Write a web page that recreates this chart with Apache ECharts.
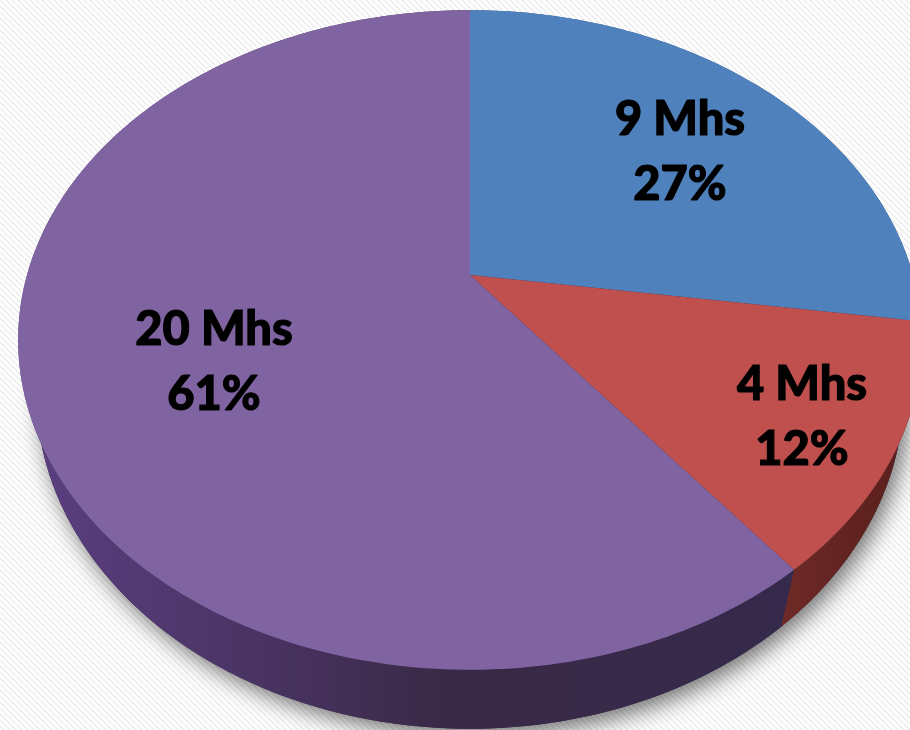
<!DOCTYPE html>
<html><head><meta charset="utf-8">
<style>html,body{margin:0;padding:0;background:#fff}#c{width:910px;height:730px}</style>
<script src="https://cdn.jsdelivr.net/npm/echarts@6/dist/echarts.min.js"></script>
</head><body><div id="c"></div>
<script>
// ---- data ----
const categories = ['9 Mhs', '4 Mhs', '20 Mhs'];
const values = [9, 4, 20];
const percents = ['27%', '12%', '61%'];

// ---- presentation ----
const topColors = ['#4f81bd', '#c0504d', '#8064a2'];
const sideStops = [
  [[0, '#3a5f8c'], [1, '#2f4f78']],
  [[0, '#6e2a27'], [1, '#561d1a']],
  [[0, '#5c3f82'], [0.3, '#4a3464'], [0.55, '#3a2946'], [1, '#352a4c']]
];
const labelPolar = [[0.668, 50.6], [0.803, 120.6], [0.604, 244.8]];
const disc = {cx: 470, cy: 275, a: 443, b: 317, k: 0.197};
const base = {sx: 0.96, sy: 1.02, topY: 670, bottomY: 729};
const total = values.reduce((s, v) => s + v, 0);

function startAngle(i) {
  let s = 0;
  for (let j = 0; j < i; j++) s += values[j];
  return s / total * 360;
}
// project a point of the round disc, polar from 12 o'clock, onto the tilted top face
function project(r, deg) {
  const t = deg * Math.PI / 180, u = r * Math.sin(t), v = r * Math.cos(t);
  const w = 1 + disc.k * v;
  return [disc.cx + disc.a * u / w, disc.cy - disc.b * v / w];
}
function lower(p) {
  return [disc.cx + (p[0] - disc.cx) * base.sx, base.bottomY + (p[1] - base.topY) * base.sy];
}
function arc(from, to) {
  const n = Math.max(2, Math.ceil((to - from) / 1)), pts = [];
  for (let i = 0; i <= n; i++) pts.push(project(1, from + (to - from) * i / n));
  return pts;
}

// background weave
const tile = document.createElement('canvas');
tile.width = tile.height = 6;
const g = tile.getContext('2d');
g.fillStyle = '#ffffff'; g.fillRect(0, 0, 6, 6);
g.strokeStyle = '#efefef'; g.lineWidth = 1.8;
[[-6, -6, 6, 6], [-6, 0, 6, 12], [0, -6, 12, 6]].forEach(l => {
  g.beginPath(); g.moveTo(l[0], l[1]); g.lineTo(l[2], l[3]); g.stroke();
});

const rows = values.map((v, i) => [v, i]);
const chart = echarts.init(document.getElementById('c'), null, {renderer: 'canvas'});
chart.setOption({
  animation: false,
  backgroundColor: {image: tile, repeat: 'repeat'},
  series: [
    { // cast shadow below the whole pie
      type: 'custom', coordinateSystem: 'none', silent: true, z: 1,
      data: [[total]],
      renderItem: () => ({
        type: 'polygon',
        shape: {points: arc(0, 360).map(lower)},
        style: {fill: '#3a2a48', shadowBlur: 22, shadowColor: 'rgba(0,0,0,0.55)', shadowOffsetX: 5, shadowOffsetY: 7}
      })
    },
    { // walls
      type: 'custom', coordinateSystem: 'none', silent: true, z: 2,
      data: rows,
      renderItem: (params, api) => {
        const i = api.value(1), from = startAngle(i), to = from + api.value(0) / total * 360;
        const top = arc(from, to), bot = top.map(lower).reverse();
        const xs = top.concat(bot).map(p => p[0]);
        return {
          type: 'polygon',
          shape: {points: top.concat(bot)},
          style: {fill: new echarts.graphic.LinearGradient(Math.min(...xs), 0, Math.max(...xs), 0,
            sideStops[i].map(s => ({offset: s[0], color: s[1]})), true)}
        };
      }
    },
    { // top faces and labels
      type: 'custom', coordinateSystem: 'none', silent: true, z: 3,
      data: rows,
      renderItem: (params, api) => {
        const i = api.value(1), from = startAngle(i), to = from + api.value(0) / total * 360;
        const lp = project(labelPolar[i][0], labelPolar[i][1]);
        const text = (s, dy) => ({
          type: 'text', z2: 10,
          style: {text: s, x: lp[0] - 1, y: lp[1] + dy, align: 'center', verticalAlign: 'middle',
            fill: '#000', stroke: '#000', lineWidth: 1.1, font: '900 47px Lato'}
        });
        return {
          type: 'group',
          children: [
            {type: 'polygon', shape: {points: [project(0, 0)].concat(arc(from, to))},
             style: {fill: topColors[i]}},
            text(categories[i], -31),
            text(percents[i], 34)
          ]
        };
      }
    }
  ]
});
</script></body></html>
